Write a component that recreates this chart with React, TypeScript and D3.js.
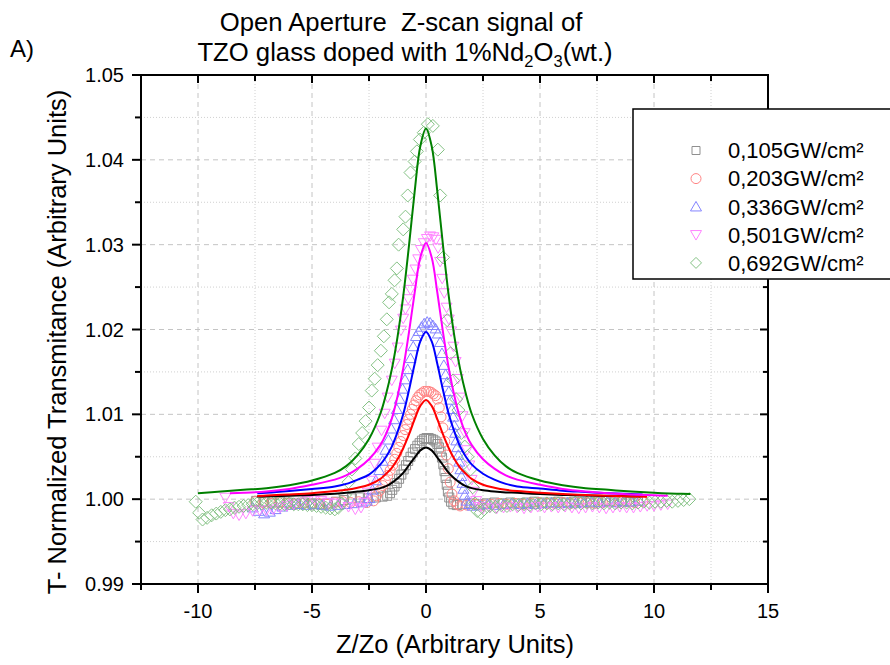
import React from 'react';
import * as d3 from 'd3';

// ---------- axis ticks ----------
const X_MAJOR = [-10, -5, 0, 5, 10, 15];
const X_MINOR = [-12.5, -7.5, -2.5, 2.5, 7.5, 12.5];
const Y_MAJOR = [0.99, 1.0, 1.01, 1.02, 1.03, 1.04, 1.05];
const Y_MINOR = [0.995, 1.005, 1.015, 1.025, 1.035, 1.045];
const Y_LABELS = ['0.99', '1.00', '1.01', '1.02', '1.03', '1.04', '1.05'];

const SERIES_LABELS = ['0,105GW/cm²', '0,203GW/cm²', '0,336GW/cm²', '0,501GW/cm²', '0,692GW/cm²'];

// ---------- measured points (Z/Zo, T) ----------
const PTS_105: [number, number][] = [
  [-7.45, 0.9998], [-7.1, 0.9997], [-6.75, 0.9996], [-6.4, 0.9997], [-6.05, 0.9996], [-5.7, 0.9995], [-5.35, 0.9996],
  [-5.0, 0.9995], [-4.65, 0.9994], [-4.3, 0.9995], [-3.95, 0.9997], [-3.6, 0.9999], [-3.25, 1.0001], [-2.9, 1.0002],
  [-2.55, 1.0001], [-2.2, 1.0002], [-1.9, 1.0003], [-1.7, 1.0004],
  [-1.58, 1.0007], [-1.48, 1.0011], [-1.38, 1.0015], [-1.28, 1.0019], [-1.18, 1.0024], [-1.08, 1.0029], [-0.98, 1.0035],
  [-0.88, 1.004], [-0.78, 1.0045], [-0.68, 1.005], [-0.58, 1.0055], [-0.48, 1.0059], [-0.38, 1.0063], [-0.28, 1.0066],
  [-0.18, 1.0069], [-0.08, 1.0071], [0.02, 1.0072], [0.12, 1.0072], [0.22, 1.0071], [0.32, 1.007], [0.42, 1.0068],
  [0.5, 1.0065], [0.57, 1.0061], [0.64, 1.0056], [0.7, 1.0049], [0.76, 1.0041], [0.81, 1.0033], [0.86, 1.0025],
  [0.91, 1.0017], [0.96, 1.0009], [1.02, 1.0002], [1.1, 0.9997], [1.2, 0.9994], [1.35, 0.9993],
  [1.6, 0.9994], [1.95, 0.9995], [2.3, 0.9994], [2.65, 0.9995], [3.0, 0.9996], [3.35, 0.9995], [3.7, 0.9996],
  [4.05, 0.9995], [4.4, 0.9996], [4.75, 0.9997], [5.1, 0.9996], [5.45, 0.9996], [5.8, 0.9997], [6.15, 0.9996],
  [6.5, 0.9997], [6.85, 0.9997], [7.2, 0.9996], [7.55, 0.9997], [7.9, 0.9998], [8.25, 0.9997], [8.6, 0.9998],
  [8.95, 0.9997], [9.3, 0.9998],
];

const PTS_203: [number, number][] = [
  [-7.5, 0.9997], [-7.15, 0.9996], [-6.8, 0.9995], [-6.45, 0.9996], [-6.1, 0.9995], [-5.75, 0.9994], [-5.4, 0.9995],
  [-5.05, 0.9994], [-4.7, 0.9995], [-4.35, 0.9994], [-4.0, 0.9996], [-3.65, 0.9997], [-3.3, 0.9996], [-2.95, 0.9997],
  [-2.6, 0.9996],
  [-2.3, 0.9998], [-2.17, 1.0004], [-2.04, 1.001], [-1.9, 1.0016], [-1.78, 1.0022], [-1.68, 1.0028], [-1.57, 1.0034],
  [-1.46, 1.004], [-1.37, 1.0047], [-1.28, 1.0054], [-1.19, 1.0061], [-1.1, 1.0068], [-1.0, 1.0075], [-0.92, 1.0082],
  [-0.84, 1.0088], [-0.76, 1.0094], [-0.68, 1.01], [-0.6, 1.0106], [-0.52, 1.0111], [-0.44, 1.0116], [-0.36, 1.012],
  [-0.28, 1.0123], [-0.18, 1.0125], [-0.08, 1.0127], [0.02, 1.0127], [0.12, 1.0127], [0.22, 1.0126], [0.32, 1.0124],
  [0.42, 1.0122], [0.5, 1.0118], [0.58, 1.0108], [0.66, 1.0097], [0.74, 1.0084], [0.82, 1.0068], [0.9, 1.0052],
  [0.98, 1.0036], [1.06, 1.002], [1.14, 1.0006], [1.24, 0.9998], [1.36, 0.9994], [1.5, 0.9992],
  [1.8, 0.9993], [2.15, 0.9994], [2.5, 0.9993], [2.85, 0.9994], [3.2, 0.9995], [3.55, 0.9994], [3.9, 0.9995],
  [4.25, 0.9994], [4.6, 0.9995], [4.95, 0.9996], [5.3, 0.9995], [5.65, 0.9995], [6.0, 0.9996], [6.35, 0.9995],
  [6.7, 0.9996], [7.05, 0.9996], [7.4, 0.9995], [7.75, 0.9996], [8.1, 0.9997], [8.45, 0.9996], [8.8, 0.9997],
  [9.15, 0.9996], [9.5, 0.9997],
];

const PTS_336: [number, number][] = [
  [-7.6, 0.999], [-7.35, 0.9986], [-7.1, 0.9983], [-6.85, 0.9985], [-6.6, 0.9988], [-6.3, 0.9991], [-5.95, 0.9993],
  [-5.6, 0.9994], [-5.25, 0.9993], [-4.9, 0.9994], [-4.55, 0.9993], [-4.2, 0.9992], [-3.85, 0.9993], [-3.5, 0.9994],
  [-3.15, 0.9995], [-2.8, 0.9996], [-2.6, 0.9998],
  [-2.48, 1.0001], [-2.35, 1.0011], [-2.2, 1.0022], [-2.05, 1.0034], [-1.9, 1.0045], [-1.78, 1.0058], [-1.65, 1.007],
  [-1.52, 1.0083], [-1.4, 1.0094], [-1.28, 1.0106], [-1.15, 1.0118], [-1.03, 1.013], [-0.92, 1.0141], [-0.8, 1.0153],
  [-0.68, 1.0166], [-0.56, 1.018], [-0.44, 1.0192], [-0.32, 1.0198], [-0.2, 1.0203], [-0.08, 1.0207], [0.05, 1.0209],
  [0.18, 1.0208], [0.3, 1.0205], [0.42, 1.0201], [0.52, 1.0195], [0.62, 1.0185], [0.7, 1.0172], [0.78, 1.0158],
  [0.86, 1.0147], [0.93, 1.0138], [1.0, 1.0127], [1.06, 1.0117], [1.13, 1.0106], [1.19, 1.0097], [1.24, 1.0087],
  [1.28, 1.0078], [1.33, 1.0069], [1.37, 1.0061], [1.42, 1.0052], [1.46, 1.0044], [1.51, 1.0035], [1.55, 1.0027],
  [1.6, 1.0019], [1.64, 1.0012], [1.7, 1.0005], [1.78, 0.9998], [1.9, 0.9994], [2.05, 0.9992],
  [2.35, 0.9993], [2.7, 0.9994], [3.05, 0.9993], [3.4, 0.9994], [3.75, 0.9995], [4.1, 0.9994], [4.45, 0.9995],
  [4.8, 0.9994], [5.15, 0.9995], [5.5, 0.9996], [5.85, 0.9995], [6.2, 0.9996], [6.55, 0.9995], [6.9, 0.9996],
  [7.25, 0.9997], [7.6, 0.9996], [7.95, 0.9997], [8.3, 0.9996], [8.65, 0.9997], [9.0, 0.9997], [9.35, 0.9998],
];

const PTS_501: [number, number][] = [
  [-8.8, 1.0002], [-8.65, 0.9991], [-8.45, 0.9983], [-8.2, 0.9981], [-7.9, 0.9983], [-7.6, 0.9986], [-7.3, 0.9987],
  [-7.0, 0.9987], [-6.7, 0.9988], [-6.4, 0.999], [-6.1, 0.9992], [-5.8, 0.9994], [-5.5, 0.9996], [-5.2, 0.9998],
  [-4.9, 0.9999], [-4.6, 0.9998], [-4.3, 0.9996], [-4.0, 0.9995], [-3.7, 0.9995], [-3.4, 0.9991], [-3.1, 0.9988],
  [-2.85, 0.999], [-2.7, 0.9996],
  [-2.55, 1.0008], [-2.39, 1.0022], [-2.26, 1.0042], [-2.12, 1.0061], [-1.95, 1.0081], [-1.81, 1.0101], [-1.68, 1.012],
  [-1.5, 1.014], [-1.37, 1.016], [-1.24, 1.0179], [-1.1, 1.0199], [-1.0, 1.0213], [-0.9, 1.0224], [-0.78, 1.0236],
  [-0.68, 1.0247], [-0.58, 1.0259], [-0.46, 1.0271], [-0.34, 1.0283], [-0.22, 1.0294], [-0.1, 1.0302], [0.04, 1.0307],
  [0.18, 1.031], [0.32, 1.0309], [0.44, 1.0306], [0.53, 1.0296], [0.62, 1.028], [0.71, 1.026], [0.8, 1.0243],
  [0.9, 1.0226], [1.0, 1.0212], [1.1, 1.0198], [1.2, 1.018], [1.3, 1.0162], [1.4, 1.0142], [1.5, 1.012],
  [1.6, 1.0098], [1.7, 1.0078], [1.8, 1.0058], [1.9, 1.004], [2.0, 1.0023], [2.1, 1.0009], [2.2, 0.9998],
  [2.35, 0.9991], [2.5, 0.9989],
  [2.8, 0.999], [3.1, 0.9989], [3.4, 0.999], [3.7, 0.9991], [4.0, 0.999], [4.3, 0.9989], [4.6, 0.999], [4.9, 0.9991],
  [5.2, 0.999], [5.5, 0.9991], [5.8, 0.999], [6.1, 0.9991], [6.4, 0.999], [6.7, 0.9989], [7.0, 0.999], [7.3, 0.9991],
  [7.6, 0.999], [7.9, 0.9989], [8.2, 0.999], [8.5, 0.9991], [8.8, 0.999], [9.1, 0.999], [9.4, 0.9991], [9.7, 0.9992],
  [10.0, 0.9992], [10.3, 0.9993], [10.6, 0.9994],
];

const PTS_692: [number, number][] = [
  [-10.1, 0.9997], [-9.95, 0.9984], [-9.8, 0.9976], [-9.6, 0.9978], [-9.4, 0.9981], [-9.2, 0.9983], [-9.0, 0.9985],
  [-8.8, 0.9987], [-8.6, 0.9988], [-8.4, 0.999], [-8.2, 0.9991], [-8.0, 0.9992], [-7.8, 0.9993], [-7.6, 0.9994],
  [-7.4, 0.9995], [-7.2, 0.9995], [-7.0, 0.9996], [-6.8, 0.9996], [-6.6, 0.9995], [-6.4, 0.9995], [-6.2, 0.9994],
  [-6.0, 0.9995], [-5.8, 0.9994], [-5.6, 0.9994], [-5.4, 0.9994], [-5.2, 0.9993], [-5.0, 0.9993], [-4.8, 0.9992],
  [-4.6, 0.9991], [-4.4, 0.999], [-4.2, 0.9989], [-4.0, 0.9988], [-3.85, 0.999], [-3.7, 0.9995], [-3.55, 1.0005],
  [-3.4, 1.002], [-3.25, 1.0035], [-3.1, 1.0048], [-2.95, 1.0065], [-2.8, 1.0078], [-2.65, 1.0092], [-2.5, 1.0108],
  [-2.38, 1.0128], [-2.25, 1.0142], [-2.12, 1.0158], [-1.98, 1.0175], [-1.85, 1.0192], [-1.72, 1.0212], [-1.62, 1.0232],
  [-1.5, 1.0242], [-1.38, 1.0258], [-1.28, 1.0272], [-1.2, 1.03], [-1.0, 1.0318], [-0.9, 1.0333], [-0.8, 1.0358],
  [-0.68, 1.0385], [-0.5, 1.0398], [-0.4, 1.041], [-0.27, 1.0424], [-0.1, 1.0432], [0.08, 1.0442], [0.3, 1.044],
  [0.52, 1.0412], [0.62, 1.0358], [0.75, 1.0285], [0.93, 1.0211], [1.08, 1.0172], [1.19, 1.014], [1.32, 1.0118],
  [1.42, 1.0105], [1.55, 1.0078], [1.7, 1.0062], [1.82, 1.005], [1.95, 1.0035], [2.05, 1.0014], [2.15, 0.9995],
  [2.25, 0.9986], [2.4, 0.9984],
  [2.55, 0.9988], [2.8, 0.9992], [3.05, 0.9991], [3.3, 0.9993], [3.55, 0.9992], [3.8, 0.9994], [4.05, 0.9993],
  [4.3, 0.9994], [4.55, 0.9993], [4.8, 0.9995], [5.05, 0.9994], [5.3, 0.9995], [5.55, 0.9994], [5.8, 0.9995],
  [6.05, 0.9994], [6.3, 0.9995], [6.55, 0.9996], [6.8, 0.9995], [7.05, 0.9996], [7.3, 0.9995], [7.55, 0.9996],
  [7.8, 0.9995], [8.05, 0.9996], [8.3, 0.9995], [8.55, 0.9996], [8.8, 0.9996], [9.05, 0.9995], [9.3, 0.9996],
  [9.55, 0.9997], [9.8, 0.9996], [10.05, 0.9997], [10.3, 0.9997], [10.55, 0.9998], [10.8, 0.9997], [11.05, 0.9998],
  [11.3, 0.9999], [11.55, 1.0],
];

// ---------- fitted curves (Z/Zo, T) ----------
const FIT_105: [number, number][] = [
  [-7.4, 1.0003], [-7, 1.00033], [-6, 1.0004], [-5, 1.0005], [-4, 1.00065], [-3.5, 1.00075], [-3, 1.0009],
  [-2.5, 1.00105], [-2, 1.0013], [-1.75, 1.00154], [-1.5, 1.00193], [-1.25, 1.00244], [-1, 1.0031], [-0.75, 1.004],
  [-0.5, 1.0049], [-0.25, 1.00575], [0, 1.0061], [0.25, 1.00575], [0.5, 1.0049], [0.75, 1.004], [1, 1.0031],
  [1.25, 1.00244], [1.5, 1.00193], [1.75, 1.00154], [2, 1.0013], [2.5, 1.00105], [3, 1.0009], [3.5, 1.0008],
  [4, 1.00075], [5, 1.0006], [6, 1.0005], [7, 1.00043], [8, 1.00038], [9, 1.00034], [9.4, 1.00032],
];
const FIT_203: [number, number][] = [
  [-7.4, 1.00037], [-7, 1.00043], [-6, 1.00055], [-5, 1.0007], [-4, 1.00095], [-3.5, 1.0011], [-3, 1.00135],
  [-2.5, 1.0017], [-2, 1.0024], [-1.75, 1.003], [-1.5, 1.0037], [-1.25, 1.0047], [-1, 1.006], [-0.75, 1.0076],
  [-0.5, 1.0094], [-0.25, 1.011], [0, 1.0117], [0.25, 1.011], [0.5, 1.0094], [0.75, 1.0076], [1, 1.006],
  [1.25, 1.0047], [1.5, 1.0037], [1.75, 1.003], [2, 1.0024], [2.5, 1.0017], [3, 1.00135], [3.5, 1.0011],
  [4, 1.00095], [5, 1.00075], [6, 1.0006], [7, 1.0005], [8, 1.0004], [9, 1.00032], [9.7, 1.00028],
];
const FIT_336: [number, number][] = [
  [-7.4, 1.0007], [-7, 1.00075], [-6, 1.00095], [-5, 1.0012], [-4, 1.0015], [-3.5, 1.0018], [-3, 1.0023],
  [-2.5, 1.0029], [-2, 1.0041], [-1.75, 1.005], [-1.5, 1.0062], [-1.25, 1.0079], [-1, 1.01], [-0.75, 1.0128],
  [-0.5, 1.0159], [-0.25, 1.0186], [0, 1.0197], [0.25, 1.0186], [0.5, 1.0159], [0.75, 1.0128], [1, 1.01],
  [1.25, 1.0079], [1.5, 1.0062], [1.75, 1.005], [2, 1.0041], [2.5, 1.003], [3, 1.0023], [3.5, 1.0018],
  [4, 1.0015], [5, 1.00125], [6, 1.001], [7, 1.00085], [8, 1.0007], [9, 1.0006], [9.5, 1.00055],
];
const FIT_501: [number, number][] = [
  [-8.6, 1.0007], [-8, 1.00075], [-7, 1.0009], [-6, 1.0012], [-5, 1.0017], [-4, 1.0023], [-3.5, 1.0028],
  [-3, 1.0036], [-2.5, 1.0047], [-2, 1.0064], [-1.75, 1.0077], [-1.5, 1.0095], [-1.25, 1.0121], [-1, 1.0154],
  [-0.75, 1.0196], [-0.5, 1.0243], [-0.25, 1.0285], [0, 1.0302], [0.25, 1.0285], [0.5, 1.0243], [0.75, 1.0196],
  [1, 1.0154], [1.25, 1.0121], [1.5, 1.0095], [1.75, 1.0077], [2, 1.0064], [2.5, 1.0047], [3, 1.0036],
  [3.5, 1.0028], [4, 1.0023], [5, 1.0017], [6, 1.0012], [7, 1.0009], [8, 1.0007], [9, 1.00055], [10, 1.00045],
  [10.6, 1.0004],
];
const FIT_692: [number, number][] = [
  [-10, 1.0007], [-9, 1.0009], [-8, 1.0011], [-7, 1.0013], [-6, 1.00165], [-5, 1.0022], [-4, 1.0031],
  [-3.5, 1.0039], [-3, 1.0052], [-2.5, 1.0071], [-2, 1.0101], [-1.75, 1.0124], [-1.5, 1.0153], [-1.25, 1.0191],
  [-1, 1.0239], [-0.75, 1.0298], [-0.5, 1.0362], [-0.25, 1.0416], [0, 1.0437], [0.25, 1.0416], [0.5, 1.0362],
  [0.75, 1.0298], [1, 1.0239], [1.25, 1.0191], [1.5, 1.0153], [1.75, 1.0124], [2, 1.0101], [2.5, 1.0071],
  [3, 1.0052], [3.5, 1.0039], [4, 1.0031], [5, 1.0022], [6, 1.00165], [7, 1.0013], [8, 1.0011], [9, 1.0009],
  [10, 1.00075], [11, 1.00065], [11.6, 1.0006],
];

// ---------- styles ----------
type Shape = 'square' | 'circle' | 'up' | 'down' | 'diamond';
const SERIES = [
  { label: SERIES_LABELS[0], pts: PTS_105, fit: FIT_105, shape: 'square' as Shape, mark: '#8f8f8f', line: '#000000' },
  { label: SERIES_LABELS[1], pts: PTS_203, fit: FIT_203, shape: 'circle' as Shape, mark: '#ff8484', line: '#ff0000' },
  { label: SERIES_LABELS[2], pts: PTS_336, fit: FIT_336, shape: 'up' as Shape, mark: '#8484ff', line: '#0000ff' },
  { label: SERIES_LABELS[3], pts: PTS_501, fit: FIT_501, shape: 'down' as Shape, mark: '#ff84ff', line: '#ff00ff' },
  { label: SERIES_LABELS[4], pts: PTS_692, fit: FIT_692, shape: 'diamond' as Shape, mark: '#84c284', line: '#008000' },
];

const W = 890;
const H = 665;
const PL = 141;
const PR = 768;
const PT = 75;
const PB = 584;
const FONT = 'Liberation Sans, Arial, sans-serif';

function markerPath(shape: Shape, s: number): string {
  switch (shape) {
    case 'square':
      return `M${-s},${-s}h${2 * s}v${2 * s}h${-2 * s}Z`;
    case 'up':
      return `M0,${-s * 1.05}L${s * 1.1},${s * 0.85}L${-s * 1.1},${s * 0.85}Z`;
    case 'down':
      return `M0,${s * 1.05}L${s * 1.1},${-s * 0.85}L${-s * 1.1},${-s * 0.85}Z`;
    case 'diamond':
      return `M0,${-s}L${s},0L0,${s}L${-s},0Z`;
    default:
      return '';
  }
}

function Marker({ shape, x, y, color, size }: { shape: Shape; x: number; y: number; color: string; size: number }) {
  if (shape === 'circle') {
    return <circle cx={x} cy={y} r={size} fill="none" stroke={color} strokeWidth={1} />;
  }
  return <path d={markerPath(shape, size)} transform={`translate(${x},${y})`} fill="none" stroke={color} strokeWidth={1} />;
}

const SIZES: Record<Shape, number> = { square: 4.5, circle: 5, up: 5, down: 5, diamond: 6.5 };
const LEG_SIZES: Record<Shape, number> = { square: 4, circle: 5, up: 5, down: 5, diamond: 5.5 };

export default function App() {
  const x = d3.scaleLinear().domain([-12.5, 15]).range([PL, PR]);
  const y = d3.scaleLinear().domain([0.99, 1.05]).range([PB, PT]);
  const line = d3
    .line<[number, number]>()
    .x((d) => x(d[0]))
    .y((d) => y(d[1]))
    .curve(d3.curveCatmullRom.alpha(0.5));

  return (
    <svg width={W} height={H} style={{ position: 'absolute', left: 0, top: 0, background: '#fff' }} fontFamily={FONT}>
      <rect x={0} y={0} width={W} height={H} fill="#fff" />
      <defs>
        <clipPath id="plotclip">
          <rect x={PL} y={PT} width={PR - PL} height={PB - PT} />
        </clipPath>
      </defs>

      {/* grid */}
      <g>
        {X_MINOR.filter((v) => v > -12.5).map((v) => (
          <line key={'gxm' + v} x1={x(v)} x2={x(v)} y1={PT} y2={PB} stroke="#d0d0d0" strokeWidth={1} strokeDasharray="1,2" />
        ))}
        {Y_MINOR.map((v) => (
          <line key={'gym' + v} x1={PL} x2={PR} y1={y(v)} y2={y(v)} stroke="#d0d0d0" strokeWidth={1} strokeDasharray="1,2" />
        ))}
        {X_MAJOR.filter((v) => v < 15).map((v) => (
          <line key={'gx' + v} x1={x(v)} x2={x(v)} y1={PT} y2={PB} stroke="#c4c4c4" strokeWidth={1} strokeDasharray="5,4" />
        ))}
        {Y_MAJOR.filter((v) => v > 0.99 && v < 1.05).map((v) => (
          <line key={'gy' + v} x1={PL} x2={PR} y1={y(v)} y2={y(v)} stroke="#c4c4c4" strokeWidth={1} strokeDasharray="5,4" />
        ))}
      </g>

      {/* markers */}
      <g clipPath="url(#plotclip)">
        {SERIES.map((s, si) => (
          <g key={'m' + si}>
            {s.pts.map((p, i) => (
              <Marker key={i} shape={s.shape} x={x(p[0])} y={y(p[1])} color={s.mark} size={SIZES[s.shape]} />
            ))}
          </g>
        ))}
      </g>

      {/* fitted lines */}
      <g clipPath="url(#plotclip)">
        {SERIES.map((s, si) => (
          <path key={'l' + si} d={line(s.fit) || ''} fill="none" stroke={s.line} strokeWidth={2} />
        ))}
      </g>

      {/* frame */}
      <rect x={PL} y={PT} width={PR - PL} height={PB - PT} fill="none" stroke="#000" strokeWidth={2} />

      {/* left axis ticks */}
      {Y_MAJOR.map((v) => (
        <line key={'ly' + v} x1={PL - 9} x2={PL} y1={y(v)} y2={y(v)} stroke="#000" strokeWidth={2} />
      ))}
      {Y_MINOR.map((v) => (
        <line key={'lym' + v} x1={PL - 6} x2={PL} y1={y(v)} y2={y(v)} stroke="#000" strokeWidth={2} />
      ))}
      {/* right axis ticks (inward) */}
      {Y_MAJOR.map((v) => (
        <line key={'ry' + v} x1={PR - 8} x2={PR} y1={y(v)} y2={y(v)} stroke="#000" strokeWidth={2} />
      ))}
      {Y_MINOR.map((v) => (
        <line key={'rym' + v} x1={PR - 5} x2={PR} y1={y(v)} y2={y(v)} stroke="#000" strokeWidth={2} />
      ))}
      {/* bottom axis ticks */}
      {X_MAJOR.map((v) => (
        <line key={'bx' + v} x1={x(v)} x2={x(v)} y1={PB} y2={PB + 9} stroke="#000" strokeWidth={2} />
      ))}
      {X_MINOR.map((v) => (
        <line key={'bxm' + v} x1={x(v)} x2={x(v)} y1={PB} y2={PB + 6} stroke="#000" strokeWidth={2} />
      ))}
      {/* top axis ticks (inward) */}
      {X_MAJOR.map((v) => (
        <line key={'tx' + v} x1={x(v)} x2={x(v)} y1={PT} y2={PT + 8} stroke="#000" strokeWidth={2} />
      ))}
      {X_MINOR.map((v) => (
        <line key={'txm' + v} x1={x(v)} x2={x(v)} y1={PT} y2={PT + 6} stroke="#000" strokeWidth={2} />
      ))}

      {/* tick labels */}
      {Y_MAJOR.map((v, i) => (
        <text key={'yl' + v} x={124} y={y(v) + 7} fontSize={20} textAnchor="end" fill="#000">
          {Y_LABELS[i]}
        </text>
      ))}
      {X_MAJOR.map((v) => (
        <text key={'xl' + v} x={x(v)} y={618} fontSize={20} textAnchor="middle" fill="#000">
          {String(v)}
        </text>
      ))}

      {/* axis titles */}
      <text x={455} y={653} fontSize={25.5} textAnchor="middle" fill="#000">
        Z/Zo (Arbitrary Units)
      </text>
      <text transform="translate(66,342) rotate(-90)" fontSize={25.5} textAnchor="middle" fill="#000">
        T- Normalized Transmitance (Arbitrary Units)
      </text>

      {/* title */}
      <text x={401} y={31} fontSize={25.7} textAnchor="middle" fill="#000" style={{ whiteSpace: 'pre' }}>
        {'Open Aperture  Z-scan signal of'}
      </text>
      <text x={405} y={61} fontSize={25.7} textAnchor="middle" fill="#000">
        TZO glass doped with 1%Nd
        <tspan fontSize={16.5} dy={6}>2</tspan>
        <tspan dy={-6}>O</tspan>
        <tspan fontSize={16.5} dy={6}>3</tspan>
        <tspan dy={-6}>(wt.)</tspan>
      </text>
      <text x={10} y={57} fontSize={24} fill="#000">
        A)
      </text>

      {/* legend */}
      <rect x={633} y={109} width={262} height={170} fill="#fff" stroke="#000" strokeWidth={1.5} />
      {SERIES.map((s, i) => (
        <g key={'lg' + i}>
          <Marker shape={s.shape} x={696} y={150.5 + 28.1 * i} color={s.mark} size={LEG_SIZES[s.shape]} />
          <text x={728} y={158.3 + 28.1 * i} fontSize={22} fill="#000">
            {s.label}
          </text>
        </g>
      ))}
    </svg>
  );
}
